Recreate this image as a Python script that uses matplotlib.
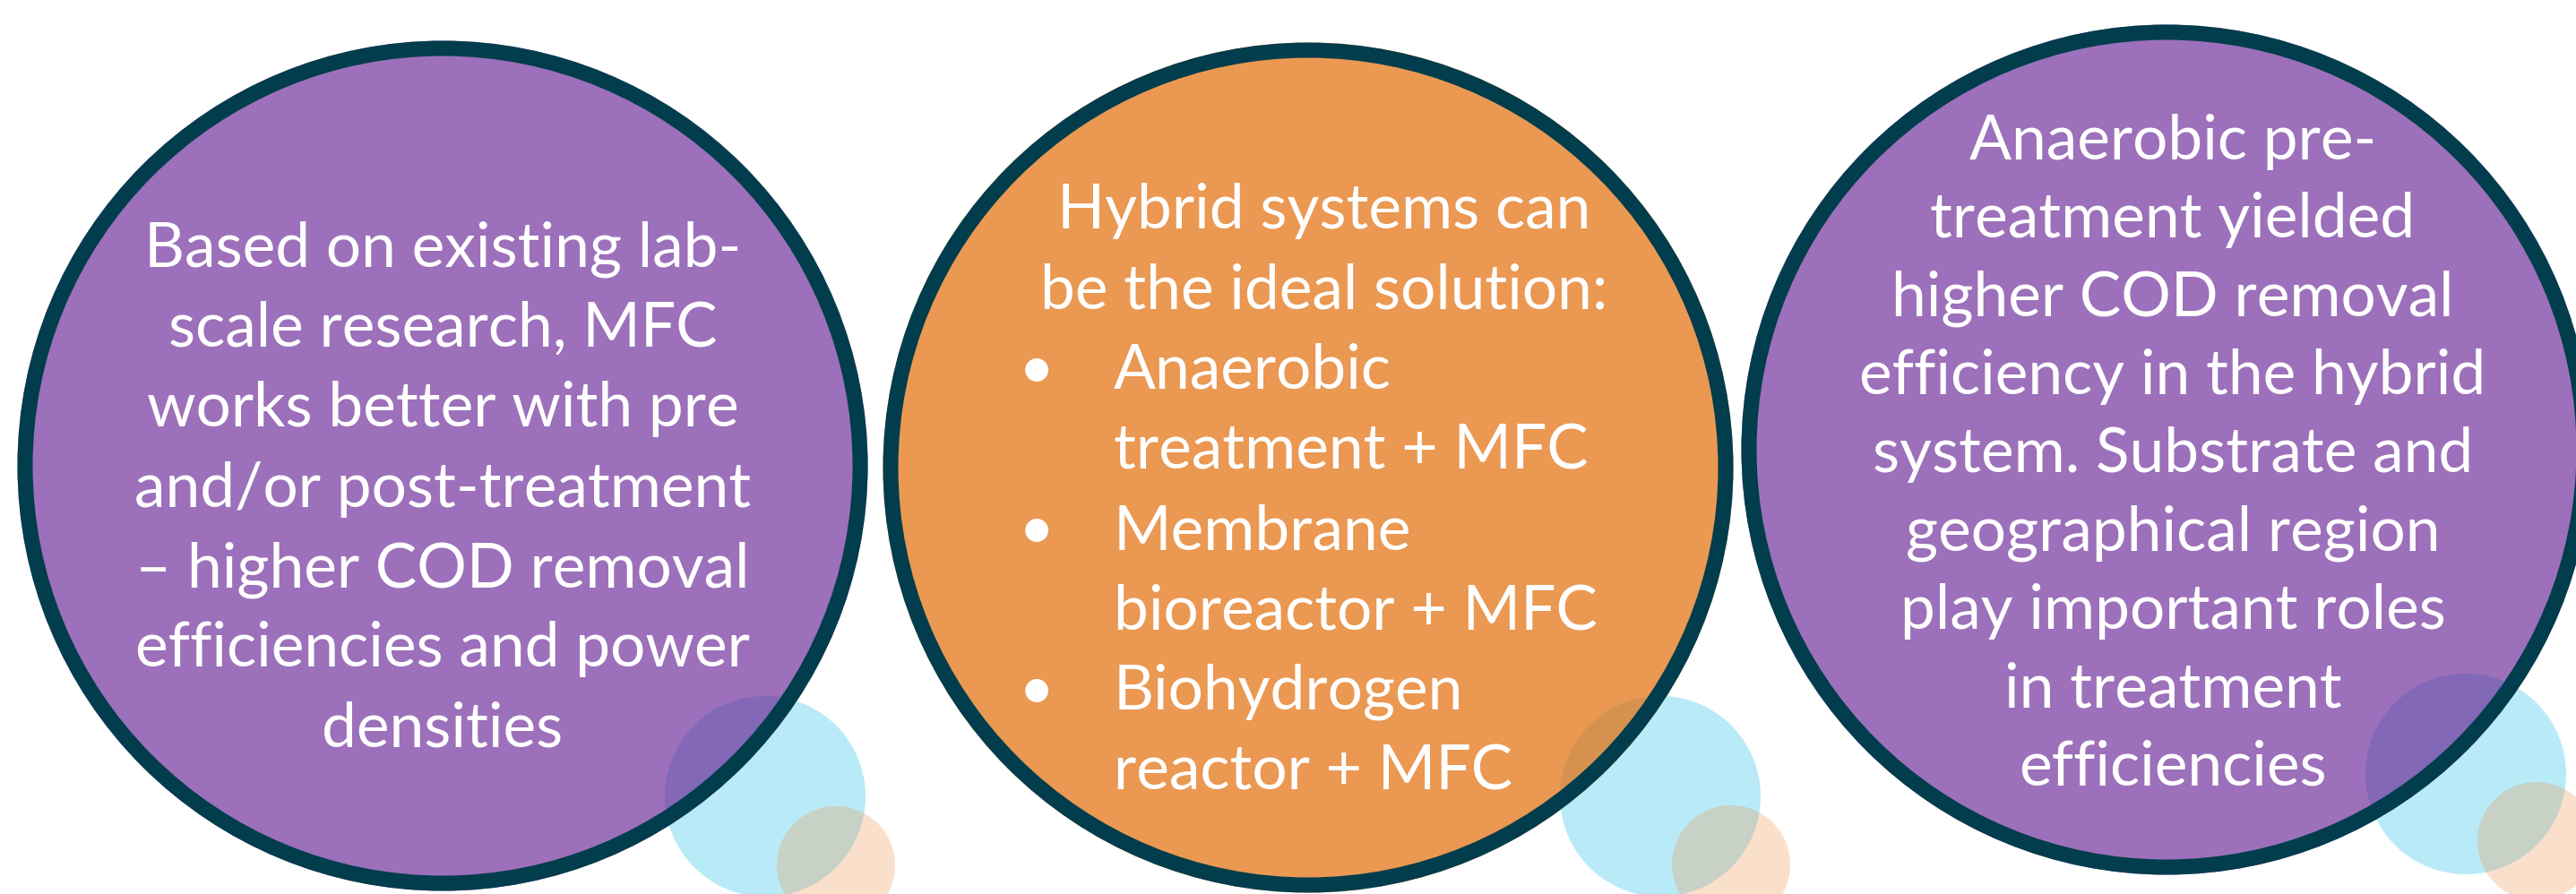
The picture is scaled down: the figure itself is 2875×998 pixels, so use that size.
import matplotlib
matplotlib.use("Agg")
import matplotlib.pyplot as plt
from matplotlib.patches import Circle

# ---- content ----
circle1_lines = ["Based on existing lab-", "scale research, MFC", "works better with pre",
                 "and/or post-treatment", "\u2013 higher COD removal", "efficiencies and power",
                 "densities"]
circle2_header = ["Hybrid systems can", "be the ideal solution:"]
circle2_bullets = [["Anaerobic", "treatment + MFC"],
                   ["Membrane", "bioreactor + MFC"],
                   ["Biohydrogen", "reactor + MFC"]]
circle3_lines = ["Anaerobic pre-", "treatment yielded", "higher COD removal",
                 "efficiency in the hybrid", "system. Substrate and", "geographical region",
                 "play important roles", "in treatment", "efficiencies"]

# ---- layout / style ----
W, H = 2875, 998
big_centers = [(494, 520), (1460, 522), (2418, 502)]
big_r = 466
edge_w = 17
purple_face = (100/255, 31/255, 148/255, 0.64)
orange_face = (226/255, 109/255, 8/255, 0.70)
big_faces = [purple_face, orange_face, purple_face]
edge_col = "#013D4C"
blue_col = "#B8EBF7"
peach_face = (238/255, 148/255, 79/255, 0.29)
blue_r, peach_r = 112, 66
deco_centers_blue = [(854, 889), (1853, 889), (2752, 864)]
deco_centers_peach = [(933, 966), (1932, 965), (2831, 939)]

FONT = "Lato"
FS = 50
LS = 89.5

fig = plt.figure(figsize=(W/100, H/100), dpi=100)
ax = fig.add_axes([0, 0, 1, 1])
ax.set_xlim(0, W)
ax.set_ylim(H, 0)
ax.axis("off")

for (bx, by) in deco_centers_blue:
    ax.add_patch(Circle((bx, by), blue_r, facecolor=blue_col, edgecolor="none", zorder=1))
for (cx, cy), fc in zip(big_centers, big_faces):
    ax.add_patch(Circle((cx, cy), big_r + edge_w/2, facecolor=fc, edgecolor="none", zorder=2))
    ax.add_patch(Circle((cx, cy), big_r, facecolor="none", edgecolor=edge_col,
                        linewidth=edge_w*0.72, zorder=3))
for (px, py) in deco_centers_peach:
    ax.add_patch(Circle((px, py), peach_r, facecolor=peach_face, edgecolor="none", zorder=4))

txt = dict(color="white", family=FONT, fontsize=FS, zorder=5)

# circle 1
y0 = 297
for i, line in enumerate(circle1_lines):
    ax.text(494, y0 + i*LS, line, ha="center", va="baseline", **txt)

# circle 2
y0 = 255
for i, line in enumerate(circle2_header):
    ax.text(1478, y0 + i*LS, line, ha="center", va="baseline", **txt)
y = y0 + 2*LS
for item in circle2_bullets:
    ax.text(1157, y, "\u2022", ha="center", va="baseline", **txt)
    for j, line in enumerate(item):
        ax.text(1243, y + j*LS, line, ha="left", va="baseline", **txt)
    y += 2*LS

# circle 3
y0 = 178
LS3 = 87.3
for i, line in enumerate(circle3_lines):
    ax.text(2425, y0 + i*LS3, line, ha="center", va="baseline", **txt)

fig.savefig("out.png", dpi=100, facecolor="white")
